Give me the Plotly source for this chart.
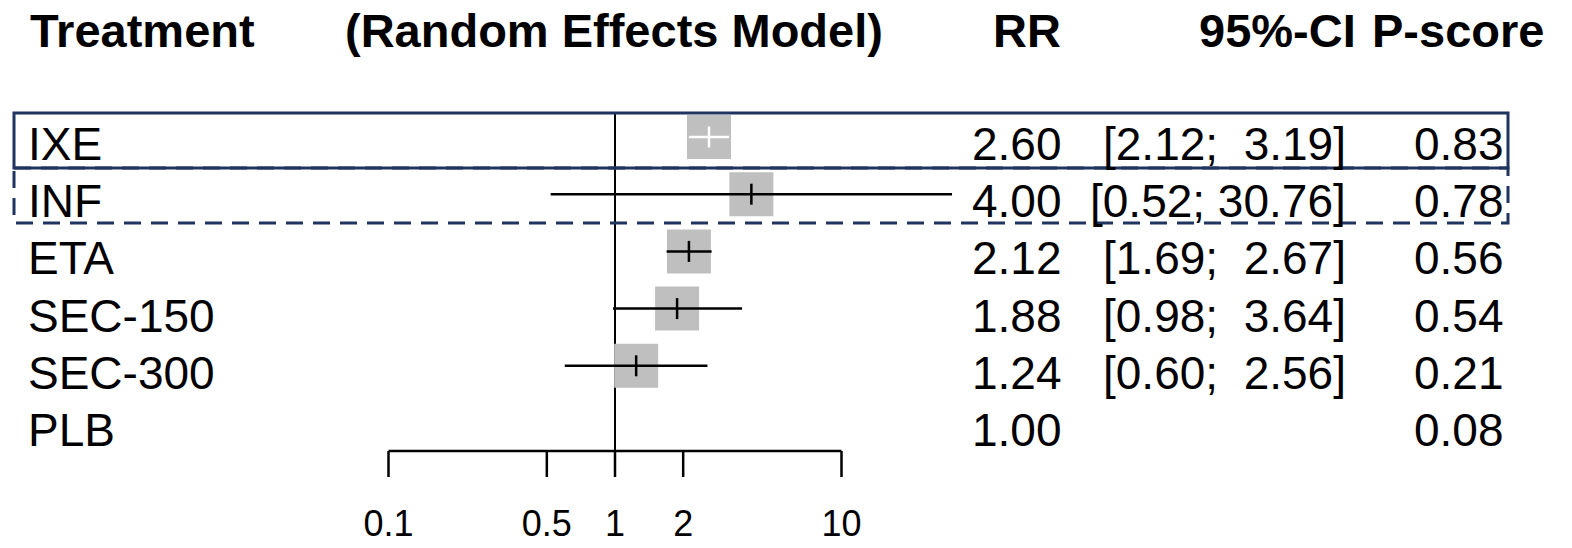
import numpy as np
import plotly.graph_objects as go

# ---- data ----
treatments = ["IXE", "INF", "ETA", "SEC-150", "SEC-300", "PLB"]
rr = [2.60, 4.00, 2.12, 1.88, 1.24, 1.00]
ci_low = [2.12, 0.52, 1.69, 0.98, 0.60, None]
ci_high = [3.19, 30.76, 2.67, 3.64, 2.56, None]
rr_text = ["2.60", "4.00", "2.12", "1.88", "1.24", "1.00"]
ci_text = ["[2.12;\u00a0 3.19]", "[0.52; 30.76]", "[1.69;\u00a0 2.67]",
           "[0.98;\u00a0 3.64]", "[0.60;\u00a0 2.56]", ""]
pscore_text = ["0.83", "0.78", "0.56", "0.54", "0.21", "0.08"]
tick_vals = [0.1, 0.5, 1, 2, 10]
tick_text = ["0.1", "0.5", "1", "2", "10"]

W, H = 1572, 548
FONT = "Liberation Sans, Arial, sans-serif"
NAVY = "#1f3560"
GRAY = "#bfbfbf"

rows = [6, 5, 4, 3, 2, 1]
PX_PER_ROW = 57.2
def ypix_to_data(p):
    return 6 - (p - 137) / PX_PER_ROW
def px(x):
    return x / W
def py(y):
    return 1 - y / H

y_axis = ypix_to_data(451)
y_tick_bottom = ypix_to_data(477)
y_ticklab = ypix_to_data(527)
y_vtop = ypix_to_data(113)

fig = go.Figure()

fig.add_trace(go.Scatter(x=[1, 1], y=[y_axis, y_vtop], mode="lines",
                         line=dict(color="black", width=2), hoverinfo="skip"))

has = [i for i in range(len(treatments)) if ci_low[i] is not None]
fig.add_trace(go.Scatter(
    x=[rr[i] for i in has], y=[rows[i] for i in has], mode="markers",
    marker=dict(symbol="square", size=44, color=GRAY, line=dict(width=0)),
    hoverinfo="skip"))

for i in has:
    col = "white" if i == 0 else "black"
    fig.add_trace(go.Scatter(x=[ci_low[i], ci_high[i]], y=[rows[i], rows[i]],
                             mode="lines", line=dict(color=col, width=2.5),
                             hoverinfo="skip"))
    fig.add_trace(go.Scatter(x=[rr[i]], y=[rows[i]], mode="markers",
                             marker=dict(symbol="line-ns", size=15,
                                         line=dict(color=col, width=2.5)),
                             hoverinfo="skip"))

fig.add_trace(go.Scatter(x=[tick_vals[0], tick_vals[-1]], y=[y_axis, y_axis],
                         mode="lines", line=dict(color="black", width=2.5),
                         hoverinfo="skip"))
for t in tick_vals:
    fig.add_trace(go.Scatter(x=[t, t], y=[y_axis, y_tick_bottom], mode="lines",
                             line=dict(color="black", width=2.5), hoverinfo="skip"))
fig.add_trace(go.Scatter(x=tick_vals, y=[y_ticklab] * len(tick_vals), mode="text",
                         text=tick_text, textposition="middle center",
                         textfont=dict(family=FONT, size=36, color="black"),
                         hoverinfo="skip"))

ann = []
def add_text(text, x, y, xanchor, size=46, bold=False, yref="y", yshift=0):
    ann.append(dict(text=("<b>%s</b>" % text) if bold else text,
                    x=px(x), xref="paper", y=y, yref=yref, xanchor=xanchor,
                    yanchor="middle", showarrow=False, yshift=yshift,
                    borderpad=0, borderwidth=0,
                    font=dict(family=FONT, size=size, color="black")))

hy = py(31)
add_text("Treatment", 30, hy, "left", size=47, bold=True, yref="paper")
add_text("(Random Effects Model)", 345, hy, "left", size=47, bold=True, yref="paper")
add_text("RR", 1061, hy, "right", size=47, bold=True, yref="paper")
add_text("95%-CI", 1356, hy, "right", size=47, bold=True, yref="paper")
add_text("P-score", 1544, hy, "right", size=47, bold=True, yref="paper")

for i, name in enumerate(treatments):
    add_text(name, 28, rows[i], "left", yshift=-7)
    add_text(rr_text[i], 1062, rows[i], "right", yshift=-7)
    if ci_text[i]:
        add_text(ci_text[i], 1346, rows[i], "right", yshift=-7)
    add_text(pscore_text[i], 1504, rows[i], "right", yshift=-7)

shapes = [
    dict(type="rect", xref="paper", yref="paper", x0=px(14), x1=px(1508),
         y0=py(113), y1=py(168), line=dict(color=NAVY, width=3)),
    dict(type="rect", xref="paper", yref="paper", x0=px(14), x1=px(1508),
         y0=py(168), y1=py(223), line=dict(color=NAVY, width=3, dash="17px,10px")),
]

x_lo = (0 - 615) / 226.5
x_hi = (W - 615) / 226.5
fig.update_layout(
    width=W, height=H, margin=dict(l=0, r=0, t=0, b=0),
    paper_bgcolor="white", plot_bgcolor="white", showlegend=False,
    xaxis=dict(type="log", range=[x_lo, x_hi], visible=False, fixedrange=True),
    yaxis=dict(range=[ypix_to_data(H), ypix_to_data(0)], visible=False,
               fixedrange=True),
    annotations=ann, shapes=shapes,
)
fig.write_html("out.html", config={"displayModeBar": False},
               post_script="document.body.style.margin='0';document.body.style.overflow='hidden';")
